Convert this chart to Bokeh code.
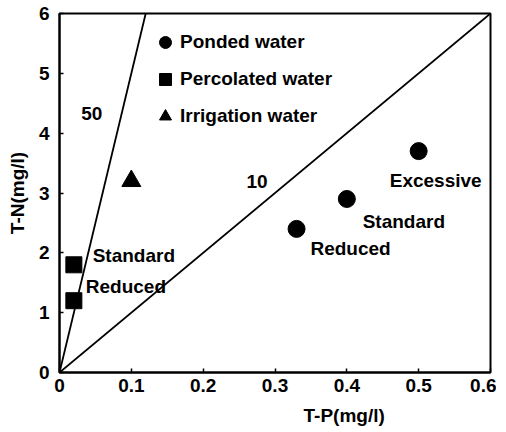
from bokeh.plotting import figure
from bokeh.models import Range1d, Label, Legend, LegendItem, FixedTicker, ColumnDataSource, Title
from bokeh.embed import file_html
from bokeh.resources import INLINE
from bokeh.core.properties import value

# ---- data ----
ponded_p = [0.33, 0.40, 0.50]
ponded_n = [2.4, 2.9, 3.7]
ponded_labels = ["Reduced", "Standard", "Excessive"]

perc_p = [0.02, 0.02]
perc_n = [1.8, 1.2]
perc_labels = ["Standard", "Reduced"]

irr_p = [0.10]
irr_n = [3.2]

ratios = [50, 10]
ratio_labels = ["50", "10"]

x_ticks = [0, 0.1, 0.2, 0.3, 0.4, 0.5, 0.6]
x_tick_labels = ["0", "0.1", "0.2", "0.3", "0.4", "0.5", "0.6"]
y_ticks = [0, 1, 2, 3, 4, 5, 6]

x_max = 0.6
y_max = 6

FONT = "Liberation Sans"
FS = "19px"

p = figure(frame_width=431, frame_height=359, min_border_left=59, min_border_top=13,
           min_border_right=6, min_border_bottom=4,
           x_range=Range1d(0, x_max), y_range=Range1d(0, y_max),
           output_backend="svg", toolbar_location=None)
p.grid.visible = False
p.outline_line_color = "black"
p.outline_line_width = 2
p.background_fill_color = "white"
p.border_fill_color = "white"

for ax in (p.xaxis[0], p.yaxis[0]):
    ax.axis_line_width = 2
    ax.major_tick_in = 4
    ax.major_tick_out = 0
    ax.minor_tick_in = 0
    ax.minor_tick_out = 0
    ax.major_tick_line_width = 1.5
    ax.major_label_text_font = FONT
    ax.major_label_text_font_size = "19px"
    ax.major_label_text_font_style = "bold"
    ax.major_label_text_color = "black"

p.xaxis.ticker = FixedTicker(ticks=x_ticks)
p.xaxis.major_label_overrides = {t: l for t, l in zip(x_ticks, x_tick_labels)}
p.xaxis.major_label_standoff = 6
p.yaxis.ticker = FixedTicker(ticks=y_ticks)
p.yaxis.major_label_standoff = 10
p.yaxis.axis_label = "T-N(mg/l)"
p.yaxis.axis_label_text_font = FONT
p.yaxis.axis_label_text_font_size = FS
p.yaxis.axis_label_text_font_style = "bold"
p.yaxis.axis_label_text_color = "black"
p.yaxis.axis_label_standoff = 8

# ratio lines N = r * P
for r in ratios:
    pend = min(x_max, y_max / r)
    p.line([0, pend], [0, r * pend], line_color="black", line_width=1.8)

p.add_layout(Label(x=0.045, y=4.33, text=ratio_labels[0], text_font=FONT, text_font_size=FS,
                   text_font_style="bold", text_color="black",
                   text_align="center", text_baseline="middle"))
p.add_layout(Label(x=0.275, y=3.2, text=ratio_labels[1], text_font=FONT, text_font_size=FS,
                   text_font_style="bold", text_color="black",
                   text_align="center", text_baseline="middle"))

# points
r_pond = p.scatter(ponded_p, ponded_n, marker="circle", size=17, color="black")
r_perc = p.scatter(perc_p, perc_n, marker="square", size=16, color="black")
r_irr = p.scatter(irr_p, irr_n, marker="triangle", size=19, color="black")

# point labels (screen offsets)
pond_src = ColumnDataSource(dict(x=ponded_p, y=ponded_n, t=ponded_labels,
                                 dx=[54, 57, 17], dy=[20, 23, 29]))
p.text(x="x", y="y", text="t", x_offset="dx", y_offset="dy", source=pond_src,
       text_font=value(FONT), text_font_size=FS, text_font_style="bold", text_align="center",
       text_baseline="middle", text_color="black")
perc_src = ColumnDataSource(dict(x=perc_p, y=perc_n, t=perc_labels,
                                 dx=[60, 52], dy=[-9, -14]))
p.text(x="x", y="y", text="t", x_offset="dx", y_offset="dy", source=perc_src,
       text_font=value(FONT), text_font_size=FS, text_font_style="bold", text_align="center",
       text_baseline="middle", text_color="black")

# x axis label (offset to the right as in reference)
p.add_layout(Title(text="T-P(mg/l)", align="left", offset=244, text_font=FONT,
                   text_font_size=FS, text_font_style="bold", text_color="black",
                   standoff=16), "below")

legend = Legend(items=[LegendItem(label="Ponded water", renderers=[r_pond]),
                       LegendItem(label="Percolated water", renderers=[r_perc]),
                       LegendItem(label="Irrigation water", renderers=[r_irr])],
                location=(91, 241), margin=0, padding=0, spacing=7,
                glyph_width=30, glyph_height=30, label_height=30, label_standoff=0,
                border_line_color=None, background_fill_alpha=0,
                label_text_font=FONT, label_text_font_size=FS,
                label_text_font_style="bold", label_text_color="black")
p.add_layout(legend)

open("out.html", "w").write(file_html(p, INLINE))
